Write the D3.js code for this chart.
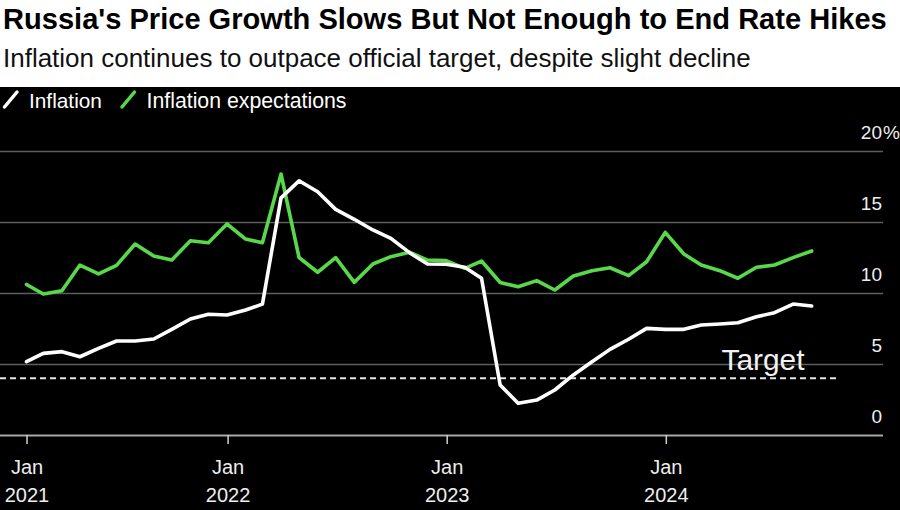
<!DOCTYPE html>
<html><head><meta charset="utf-8">
<script src="https://cdn.jsdelivr.net/npm/d3@7"></script>
<style>
body{margin:0;background:#fff;}
svg{display:block;font-family:"Liberation Sans",Arial,Helvetica,sans-serif;}
</style>
</head><body>
<svg id="c" width="900" height="510"></svg>
<script>
// ---- data ----
const months = [
 "2021-01","2021-02","2021-03","2021-04","2021-05","2021-06","2021-07","2021-08","2021-09","2021-10","2021-11","2021-12",
 "2022-01","2022-02","2022-03","2022-04","2022-05","2022-06","2022-07","2022-08","2022-09","2022-10","2022-11","2022-12",
 "2023-01","2023-02","2023-03","2023-04","2023-05","2023-06","2023-07","2023-08","2023-09","2023-10","2023-11","2023-12",
 "2024-01","2024-02","2024-03","2024-04","2024-05","2024-06","2024-07","2024-08"];
const inflation = [
 5.16,5.75,5.87,5.51,6.10,6.62,6.62,6.76,7.44,8.17,8.50,8.45,
 8.80,9.22,16.70,17.90,17.13,15.89,15.19,14.44,13.85,12.84,12.04,12.02,
 11.81,11.04,3.52,2.23,2.46,3.17,4.23,5.16,6.03,6.74,7.51,7.44,
 7.44,7.75,7.82,7.91,8.33,8.61,9.22,9.08];
const expectations = [
 10.60,9.93,10.16,11.97,11.34,11.95,13.45,12.60,12.32,13.68,13.54,14.86,
 13.80,13.54,18.38,12.50,11.46,12.49,10.75,12.04,12.56,12.87,12.32,12.28,
 11.74,12.25,10.74,10.44,10.87,10.21,11.20,11.57,11.78,11.22,12.20,14.27,
 12.75,11.97,11.57,11.04,11.81,11.97,12.49,12.96];
const targetRate = 4;
const yTicks = [0,5,10,15,20];
const xTickMonths = ["2021-01","2022-01","2023-01","2024-01"];
const xTickLabels = [["Jan","2021"],["Jan","2022"],["Jan","2023"],["Jan","2024"]];
const seriesNames = ["Inflation","Inflation expectations"];
const seriesColors = ["#ffffff","#58d84a"];
const titleText = "Russia's Price Growth Slows But Not Enough to End Rate Hikes";
const subtitleText = "Inflation continues to outpace official target, despite slight decline";
const targetLabel = "Target";

// ---- helpers ----
const monthEnd = s => { const [y,m] = s.split("-").map(Number); return new Date(y, m, 0); };
const monthStart = s => { const [y,m] = s.split("-").map(Number); return new Date(y, m-1, 1); };
function fit(sel, w){ const n = sel.node(); const fs = parseFloat(sel.attr("font-size")); const cw = n.getComputedTextLength(); sel.attr("font-size", (fs*w/cw).toFixed(2)); }

const svg = d3.select("#c");
const W = 900, H = 510;
const plotTop = 87;
const gridRight = 883;

// titles
const t = svg.append("text").attr("x",3).attr("y",28.5).attr("font-size",26).attr("font-weight","bold").attr("fill","#000").text(titleText);
fit(t, 884);
const st = svg.append("text").attr("x",3).attr("y",66.5).attr("font-size",23).attr("fill","#111").text(subtitleText);
fit(st, 748);

// black panel
svg.append("rect").attr("x",0).attr("y",plotTop).attr("width",W).attr("height",H-plotTop).attr("fill","#000");

// legend
const legX = [3, 120.5];
const legTextW = [73, 200];
seriesNames.forEach((name,i)=>{
  svg.append("line").attr("x1",legX[i]+1.5).attr("y1",107).attr("x2",legX[i]+14).attr("y2",92)
    .attr("stroke",seriesColors[i]).attr("stroke-width",3.5).attr("stroke-linecap","round");
  const lt = svg.append("text").attr("x",legX[i]+26).attr("y",108).attr("font-size",19).attr("fill","#fff").text(name);
  fit(lt, legTextW[i]);
});

// scales
const x = d3.scaleTime()
  .domain([monthEnd(months[0]), monthEnd(months[months.length-1])])
  .range([26.5, 811.7]).clamp(true);
const y = d3.scaleLinear().domain([0,20]).range([435,151]);

// y axis / gridlines
const yAxis = d3.axisLeft(y).tickValues(yTicks).tickSize(gridRight).tickFormat(d=>d);
const gy = svg.append("g").attr("transform",`translate(${gridRight},0)`).call(yAxis);
gy.select(".domain").remove();
gy.selectAll(".tick line").attr("stroke", d => d===0 ? "#a8a8a8" : "#5e5e5e").attr("stroke-width", d => d===0 ? 2 : 1.5);
gy.selectAll(".tick text").attr("x",-1).attr("y",-13).attr("dy",null)
  .attr("text-anchor","end").attr("fill","#eee").attr("font-size",19).attr("font-family",null);
gy.selectAll(".tick").filter(d=>d===yTicks[yTicks.length-1]).append("text")
  .attr("x",0).attr("y",-13).attr("text-anchor","start").attr("fill","#eee").attr("font-size",19).text("%");

// x axis
const xAxis = d3.axisBottom(x).tickValues(xTickMonths.map(monthStart)).tickSize(9).tickFormat("");
const gx = svg.append("g").attr("transform",`translate(0,${y(0)})`).call(xAxis);
gx.select(".domain").remove();
gx.selectAll(".tick line").attr("stroke","#cfcfcf").attr("stroke-width",1.5);
gx.selectAll(".tick").each(function(d,i){
  const g = d3.select(this);
  g.selectAll("text").remove();
  g.append("text").attr("y",39).attr("text-anchor","middle").attr("fill","#eee").attr("font-size",20).text(xTickLabels[i][0]);
  g.append("text").attr("y",67).attr("text-anchor","middle").attr("fill","#eee").attr("font-size",20).text(xTickLabels[i][1]);
});

// target line
svg.append("line").attr("x1",0).attr("x2",838).attr("y1",y(targetRate)).attr("y2",y(targetRate))
  .attr("stroke","#e6e6e6").attr("stroke-width",2).attr("stroke-dasharray","6,4");
const tl = svg.append("text").attr("x",721.5).attr("y",370).attr("font-size",29).attr("fill","#f2f2f2").text(targetLabel);
fit(tl, 83);

// lines
const line = d3.line().x((d,i)=>x(monthEnd(months[i]))).y(d=>y(d));
[expectations, inflation].forEach((vals,k)=>{
  svg.append("path").datum(vals).attr("d",line).attr("fill","none")
    .attr("stroke", k===0 ? seriesColors[1] : seriesColors[0])
    .attr("stroke-width",3.6).attr("stroke-linejoin","round").attr("stroke-linecap","round");
});
</script>
</body></html>
